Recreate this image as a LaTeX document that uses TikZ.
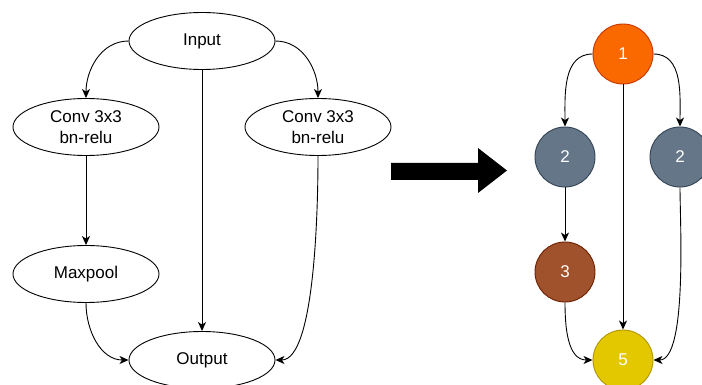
\documentclass[tikz,border=0pt]{standalone}
\usepackage{fontspec}
\setmainfont{Liberation Sans}
\usetikzlibrary{shapes.geometric,arrows.meta}

\definecolor{opone}{HTML}{FA6800}
\definecolor{oponeline}{HTML}{C73500}
\definecolor{optwo}{HTML}{647687}
\definecolor{optwoline}{HTML}{314354}
\definecolor{opthree}{HTML}{A0522D}
\definecolor{opthreeline}{HTML}{6D1F00}
\definecolor{opfive}{HTML}{E3C800}
\definecolor{opfiveline}{HTML}{B09500}

\begin{document}
\begin{tikzpicture}
  [x=1pt,y=-1pt,every node/.style={font=\fontsize{17}{21}\selectfont},
   layer/.style={ellipse,draw,line width=0.9pt,minimum width=146pt,minimum height=57pt,inner sep=0pt,align=center},
   op/.style={circle,draw,line width=0.9pt,minimum size=60pt,inner sep=0pt,text=white},
   link/.style={-{Stealth[length=9pt,width=8pt,inset=2.5pt]},line width=0.9pt}]
  \useasboundingbox (0,0) rectangle (702,385);

  % left: the block
  \node (in)[layer] at (202,41) {Input};
  \node (conva)[layer] at (86,127) {Conv 3x3\\bn-relu};
  \node (convb)[layer] at (318,127) {Conv 3x3\\bn-relu};
  \node (pool)[layer] at (86,274) {Maxpool};
  \node (out)[layer] at (202,360) {Output};

  \draw[link] (in.west) to[out=180,in=90] (conva.north);
  \draw[link] (in.east) to[out=0,in=90] (convb.north);
  \draw[link] (pool.south) to[out=-90,in=180] (out.west);
  \draw[link] (convb.south) to[out=-90,in=0,looseness=0.5] (out.east);
  \foreach \from/\to in {in/out,conva/pool}
    \draw[link] (\from) -- (\to);

  % big arrow
  \fill (391,163) -- (478,163) -- (478,148) -- (507,170.5) -- (478,193)
    -- (478,180) -- (391,180) -- cycle;

  % right: the graph
  \node (n1)[op,fill=opone,draw=oponeline] at (623,54) {1};
  \node (n2a)[op,fill=optwo,draw=optwoline] at (565,157) {2};
  \node (n2b)[op,fill=optwo,draw=optwoline] at (680,157) {2};
  \node (n3)[op,fill=opthree,draw=opthreeline] at (565,272) {3};
  \node (n5)[op,fill=opfive,draw=opfiveline] at (623,360) {5};

  \draw[link] (n1.west) to[out=180,in=90] (n2a.north);
  \draw[link] (n1.east) to[out=0,in=90] (n2b.north);
  \draw[link] (n3.south) to[out=-90,in=180] (n5.west);
  \draw[link] (n2b.south) to[out=-90,in=0,looseness=0.5] (n5.east);
  \foreach \from/\to in {n1/n5,n2a/n3}
    \draw[link] (\from) -- (\to);

\end{tikzpicture}
\end{document}
